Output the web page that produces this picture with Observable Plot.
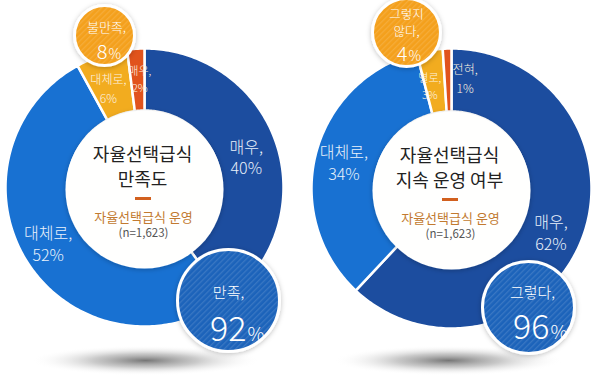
<!DOCTYPE html>
<html><head><meta charset="utf-8">
<script src="https://cdn.jsdelivr.net/npm/d3@7"></script>
<script src="https://cdn.jsdelivr.net/npm/@observablehq/plot@0.6"></script>
<style>
html,body{margin:0;padding:0;background:#fff;}
#chart svg{display:block;}
</style></head><body><div id="chart"></div>
<script>
// ---- data ----
const centerTitles = ["자율선택급식\n만족도", "자율선택급식\n지속 운영 여부"];
const centerSubtitle = "자율선택급식 운영";
const centerNote = "(n=1,623)";

const satisfactionLabels = ["매우", "대체로", "대체로", "매우"];
const satisfactionValues = [40, 52, 6, 2];
const satisfactionGroups = ["만족", "불만족"];
const satisfactionGroupValues = [92, 8];

const continuationLabels = ["매우", "대체로", "별로", "전혀"];
const continuationValues = [62, 34, 3, 1];
const continuationGroups = ["그렇다", "그렇지\n않다"];
const continuationGroupValues = [96, 4];

const sliceColors = ["#1c4d9f", "#1871d2", "#f2ac1f", "#e1531c"];
const groupColors = ["#1d63ba", "#f4a01b"];

// ---- layout (pixels) ----
const layout = [
  {cx: 144, cy: 187, R: 139, r: 77, disc: 79, labelR: 107,
   labelSize: [16, 16, 12, 11], labelShift: [[0, 2], [-6, -2], [-3, 2], [2, -3]],
   callouts: [
     {x: 228, y: 300, r: 51, labelDx: 0, labelDy: -9, labelSize: 15, splitDx: 18, numDy: 40, numSize: 34, pctSize: 19},
     {x: 104, y: 35, r: 30, labelDx: 2, labelDy: -9, labelSize: 13, splitDx: 3, numDy: 23, numSize: 20, pctSize: 14}
   ]},
  {cx: 451, cy: 188, R: 140, r: 77, disc: 79, labelR: 107,
   labelSize: [16, 16, 11, 12], labelShift: [[0, 4], [-4, 0], [-5, 2], [17, -4]],
   callouts: [
     {x: 528, y: 307, r: 46, labelDx: 4, labelDy: -16, labelSize: 15, splitDx: 21, numDy: 31, numSize: 34, pctSize: 19},
     {x: 406, y: 32, r: 34, labelDx: 0, labelDy: -10, labelSize: 12.5, splitDx: 1, numDy: 28, numSize: 20, pctSize: 14}
   ]}
];

const donuts = [
  {values: satisfactionValues, labels: satisfactionLabels, groups: satisfactionGroups, groupValues: satisfactionGroupValues, title: centerTitles[0]},
  {values: continuationValues, labels: continuationLabels, groups: continuationGroups, groupValues: continuationGroupValues, title: centerTitles[1]}
];

// ---- derived geometry ----
const slicePts = [], sliceLabels = [], discs = [], centerTexts = [], dashes = [], shadows = [];
const callDots = [], callLabels = [], callNums = [], callPcts = [];

donuts.forEach((d, di) => {
  const L = layout[di];
  const total = d3.sum(d.values);
  let acc = 0;
  d.values.forEach((v, i) => {
    const a0 = acc / total * 2 * Math.PI; acc += v;
    const a1 = acc / total * 2 * Math.PI;
    const n = Math.max(2, Math.ceil((a1 - a0) / (Math.PI / 180)));
    const id = `${di}-${i}`;
    for (let k = 0; k <= n; k++) {
      const a = a0 + (a1 - a0) * k / n;
      slicePts.push({id, x: L.cx + L.R * Math.sin(a), y: L.cy - L.R * Math.cos(a), color: sliceColors[i]});
    }
    for (let k = n; k >= 0; k--) {
      const a = a0 + (a1 - a0) * k / n;
      slicePts.push({id, x: L.cx + L.r * Math.sin(a), y: L.cy - L.r * Math.cos(a), color: sliceColors[i]});
    }
    const m = (a0 + a1) / 2;
    sliceLabels.push({
      x: L.cx + L.labelR * Math.sin(m) + L.labelShift[i][0],
      y: L.cy - L.labelR * Math.cos(m) + L.labelShift[i][1],
      text: `${d.labels[i]},\n${v}%`, size: L.labelSize[i]
    });
  });
  discs.push({x: L.cx, y: L.cy + 2, r: L.disc});
  centerTexts.push({x: L.cx - 2, y: L.cy - 22, text: d.title, kind: "title"});
  centerTexts.push({x: L.cx - 1, y: L.cy + 30, text: centerSubtitle, kind: "sub"});
  centerTexts.push({x: L.cx - 1, y: L.cy + 46, text: centerNote, kind: "note"});
  dashes.push({y: L.cy + 11, x1: L.cx - 9, x2: L.cx + 7});
  // soft floor shadow ellipse under each donut
  const sx = L.cx + (di === 0 ? 1 : -3), sy = 360, rx = 115, ry = 15;
  for (let k = 0; k <= 72; k++) {
    const a = k / 72 * 2 * Math.PI;
    shadows.push({id: di, x: sx + rx * Math.cos(a), y: sy + ry * Math.sin(a)});
  }
  d.groups.forEach((g, gi) => {
    const c = L.callouts[gi];
    callDots.push({x: c.x, y: c.y, r: c.r, color: groupColors[gi]});
    callLabels.push({x: c.x + c.labelDx, y: c.y + c.labelDy, text: `${g},`, size: c.labelSize});
    callNums.push({x: c.x + c.splitDx, y: c.y + c.numDy, text: `${d.groupValues[gi]}`, size: c.numSize});
    callPcts.push({x: c.x + c.splitDx + 1, y: c.y + c.numDy, text: "%", size: c.pctSize});
  });
});

const font = "'Noto Sans CJK KR', 'Noto Sans', sans-serif";

const chart = Plot.plot({
  width: 600, height: 379, margin: 0,
  x: {domain: [0, 600], range: [0, 600], axis: null},
  y: {domain: [0, 379], range: [0, 379], axis: null},
  r: {type: "identity"},
  style: {background: "#fff", fontFamily: font},
  marks: [
    Plot.line(shadows, {x: "x", y: "y", z: "id", curve: "linear-closed", fill: "url(#shadowGrad)", stroke: "none"}),
    Plot.line(slicePts, {x: "x", y: "y", z: "id", curve: "linear-closed", fill: "color", stroke: "white", strokeWidth: 2.5}),
    Plot.dot(discs, {x: "x", y: "y", r: "r", fill: "#fffffe", stroke: "none"}),
    Plot.text(centerTexts.filter(d => d.kind === "title"), {x: "x", y: "y", text: "text", fontSize: 18, lineHeight: 1.38, fill: "#222", fontWeight: 400}),
    Plot.text(centerTexts.filter(d => d.kind === "sub"), {x: "x", y: "y", text: "text", fontSize: 13, fill: "#c27a30", fontWeight: 400}),
    Plot.text(centerTexts.filter(d => d.kind === "note"), {x: "x", y: "y", text: "text", fontSize: 11.5, fill: "#555", fontWeight: 400}),
    Plot.ruleY(dashes, {y: "y", x1: "x1", x2: "x2", stroke: "#d2601e", strokeWidth: 3}),
    Plot.text(sliceLabels.filter(d => d.size >= 14), {x: "x", y: "y", text: "text", fontSize: "size", lineHeight: 1.35, fill: "#eaf1fb", fontWeight: 300}),
    Plot.text(sliceLabels.filter(d => d.size < 14), {x: "x", y: "y", text: "text", fontSize: "size", lineHeight: 1.55, fill: "#fdf3e0", fontWeight: 300}),
    Plot.dot(callDots, {x: "x", y: "y", r: "r", fill: "color", stroke: "white", strokeWidth: 3}),
    Plot.dot(callDots, {x: "x", y: "y", r: "r", fill: "url(#hatch)", stroke: "none"}),
    Plot.text(callLabels, {x: "x", y: "y", text: "text", fontSize: "size", lineHeight: 1.35, fill: "white", fontWeight: 300}),
    Plot.text(callNums, {x: "x", y: "y", text: "text", fontSize: "size", textAnchor: "end", lineAnchor: "bottom", fill: "white", fontWeight: 300}),
    Plot.text(callPcts, {x: "x", y: "y", text: "text", fontSize: "size", textAnchor: "start", lineAnchor: "bottom", fill: "white", fontWeight: 300})
  ]
});

// decorative defs: shadow gradient, hatch pattern, soft drop shadow
const svg = d3.select(chart);
const defs = svg.insert("defs", ":first-child");
const grad = defs.append("radialGradient").attr("id", "shadowGrad");
grad.append("stop").attr("offset", "0%").attr("stop-color", "#6f6f6f").attr("stop-opacity", 0.95);
grad.append("stop").attr("offset", "45%").attr("stop-color", "#a5a5a5").attr("stop-opacity", 0.6);
grad.append("stop").attr("offset", "100%").attr("stop-color", "#ffffff").attr("stop-opacity", 0);
const pat = defs.append("pattern").attr("id", "hatch").attr("patternUnits", "userSpaceOnUse")
  .attr("width", 4).attr("height", 4).attr("patternTransform", "rotate(45)");
pat.append("rect").attr("width", 1.3).attr("height", 4).attr("fill", "rgba(255,255,255,0.13)");
const filt = defs.append("filter").attr("id", "soft").attr("x", "-20%").attr("y", "-20%").attr("width", "140%").attr("height", "140%");
filt.append("feDropShadow").attr("dx", 0).attr("dy", 1).attr("stdDeviation", 2.5).attr("flood-color", "#000").attr("flood-opacity", 0.25);
svg.selectAll('g[fill="#fffffe"]').attr("filter", "url(#soft)");
svg.selectAll("circle").filter(function () { return groupColors.includes(this.getAttribute("fill")); })
  .attr("filter", "url(#soft)");

document.getElementById("chart").appendChild(chart);
</script>
</body></html>
